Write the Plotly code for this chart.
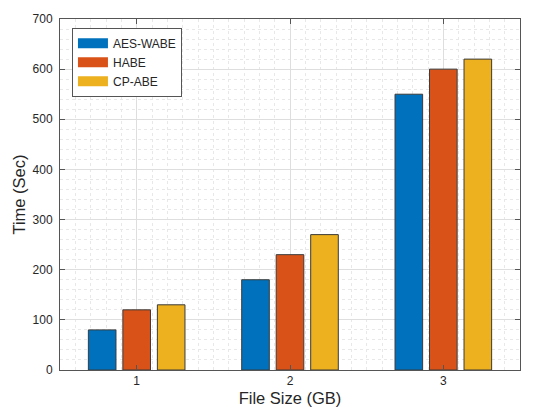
import plotly.graph_objects as go

categories = [1, 2, 3]
tick_labels = ["1", "2", "3"]
series_names = ["AES-WABE", "HABE", "CP-ABE"]
aes_wabe = [80, 180, 550]
habe = [120, 230, 600]
cp_abe = [130, 270, 620]
colors = ["#0072BD", "#D95319", "#EDB120"]

fig = go.Figure()
for name, vals, col in zip(series_names, [aes_wabe, habe, cp_abe], colors):
    fig.add_trace(go.Bar(x=categories, y=vals, name=name, showlegend=False,
                         marker=dict(color=col, line=dict(color="#3a3a3a", width=1))))
# legend entries with wide swatches
for name, col in zip(series_names, colors):
    fig.add_trace(go.Scatter(x=[None], y=[None], mode="lines", name=name,
                             line=dict(color=col, width=10)))

font_fam = "Liberation Sans, Arial, sans-serif"
fig.update_layout(
    width=542, height=409,
    margin=dict(l=60, r=22, t=19, b=39),
    paper_bgcolor="white", plot_bgcolor="white",
    barmode="group", bargap=0.325, bargroupgap=0.2,
    font=dict(family=font_fam, color="#262626", size=11),
    legend=dict(x=0.026, y=0.975, xanchor="left", yanchor="top",
                bordercolor="#555555", borderwidth=1, bgcolor="white",
                font=dict(size=12, color="#262626"), itemwidth=30,
                tracegroupgap=0, traceorder="normal"),
    showlegend=True,
)
fig.update_xaxes(
    range=[0.5, 3.5], tickmode="array", tickvals=categories, ticktext=tick_labels,
    showline=True, linecolor="#555555", linewidth=1, mirror="ticks",
    ticks="inside", ticklen=5, tickcolor="#555555", automargin=False,
    showgrid=True, gridcolor="#dedede", gridwidth=1, zeroline=False,
    minor=dict(tickmode="linear", tick0=0.5, dtick=0.1, showgrid=True,
               gridcolor="#e8e8e8", griddash="dot", gridwidth=1),
    title=dict(text="File Size (GB)", font=dict(size=16.5, color="#262626"), standoff=5),
    tickfont=dict(size=12, color="#262626"),
)
fig.update_yaxes(
    range=[0, 700], tickmode="linear", tick0=0, dtick=100,
    showline=True, linecolor="#555555", linewidth=1, mirror="ticks",
    ticks="inside", ticklen=5, tickcolor="#555555", automargin=False,
    ticklabelstandoff=4,
    showgrid=True, gridcolor="#dedede", gridwidth=1, zeroline=False,
    minor=dict(tickmode="linear", tick0=0, dtick=20, showgrid=True,
               gridcolor="#e8e8e8", griddash="dot", gridwidth=1),
    title=dict(text="Time (Sec)", font=dict(size=16.5, color="#262626"), standoff=2),
    tickfont=dict(size=12, color="#262626"),
)
fig.write_html("out.html", config={"displayModeBar": False},
               post_script="document.body.style.margin='0';document.body.style.overflow='hidden';")
